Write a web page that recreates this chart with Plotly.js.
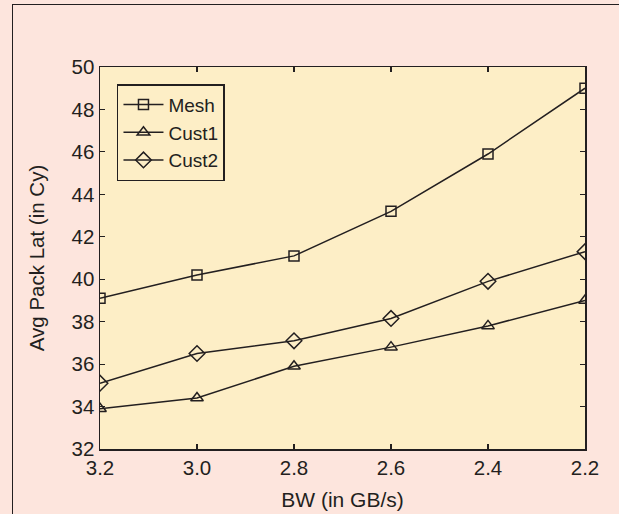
<!DOCTYPE html>
<html>
<head>
<meta charset="utf-8">
<script src="https://cdn.plot.ly/plotly-3.0.1.min.js"></script>
<style>
  html, body { margin: 0; padding: 0; background: #FDE5DD; width: 619px; height: 514px; overflow: hidden; }
  #wrap { position: absolute; left: 12px; top: 4px; width: 607px; height: 510px;
          border-left: 1.5px solid #231f20; border-top: 1.5px solid #231f20; }
  #chart { width: 606px; height: 509px; }
</style>
</head>
<body>
<div id="wrap"><div id="chart"></div></div>
<script>
const bandwidth = [3.2, 3.0, 2.8, 2.6, 2.4, 2.2];
const meshLat  = [39.1, 40.2, 41.1, 43.2, 45.9, 49.0];
const cust1Lat = [33.9, 34.4, 35.9, 36.8, 37.8, 39.0];
const cust2Lat = [35.1, 36.5, 37.1, 38.15, 39.9, 41.3];
const xTicks = [3.2, 3.0, 2.8, 2.6, 2.4, 2.2];
const yTicks = [32, 34, 36, 38, 40, 42, 44, 46, 48, 50];

const ink = '#231f20';
const fam = 'Liberation Sans, Arial, sans-serif';
function series(name, y, symbol, size) {
  return {
    x: bandwidth, y: y, name: name, type: 'scatter', mode: 'lines+markers',
    line: {color: ink, width: 1.5},
    marker: {symbol: symbol, size: size, color: ink, line: {color: ink, width: 1.5}}
  };
}
const data = [
  series('Mesh', meshLat, 'square-open', 10),
  series('Cust1', cust1Lat, 'triangle-up-open', 11),
  series('Cust2', cust2Lat, 'diamond-open', 12)
];

const axisCommon = {
  showline: true, linecolor: ink, linewidth: 1.5, mirror: 'ticks',
  ticks: 'inside', ticklen: 5, tickwidth: 1.2, tickcolor: ink,
  showgrid: false, zeroline: false,
  tickfont: {family: fam, size: 20.5, color: ink}
};

const layout = {
  width: 606, height: 509,
  margin: {l: 87, r: 34, t: 62, b: 65},
  paper_bgcolor: '#FDE5DD',
  plot_bgcolor: '#FDEEC6',
  showlegend: true,
  font: {family: fam, color: ink},
  xaxis: Object.assign({}, axisCommon, {
    range: [3.2, 2.2], tickvals: xTicks, tickformat: '.1f',
    title: {text: 'BW (in GB/s)', font: {family: fam, size: 21, color: ink}, standoff: 14}
  }),
  yaxis: Object.assign({}, axisCommon, {
    range: [32, 50], tickvals: yTicks,
    title: {text: 'Avg Pack Lat (in Cy)', font: {family: fam, size: 20.5, color: ink}, standoff: 21}
  }),
  legend: {
    x: 0.035, y: 0.955, xanchor: 'left', yanchor: 'top',
    bgcolor: 'rgba(0,0,0,0)', bordercolor: ink, borderwidth: 1.5,
    font: {family: fam, size: 19, color: ink}, tracegroupgap: 0,
    itemwidth: 40
  }
};

Plotly.newPlot('chart', data, layout, {displayModeBar: false, staticPlot: true});
</script>
</body>
</html>
